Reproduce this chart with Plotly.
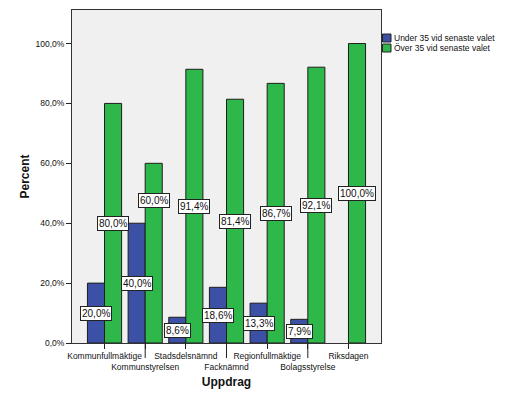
import plotly.graph_objects as go

categories = ["Kommunfullmäktige", "Kommunstyrelsen", "Stadsdelsnämnd", "Facknämnd",
              "Regionfullmäktige", "Bolagsstyrelse", "Riksdagen"]
under_35 = [20.0, 40.0, 8.6, 18.6, 13.3, 7.9, None]
over_35 = [80.0, 60.0, 91.4, 81.4, 86.7, 92.1, 100.0]
series_names = ["Under 35 vid senaste valet", "Över 35 vid senaste valet"]
y_ticks = [0, 20, 40, 60, 80, 100]
y_tick_labels = ["0,0%", "20,0%", "40,0%", "60,0%", "80,0%", "100,0%"]

BLUE = "#3c50a6"
GREEN = "#2fb84a"
FONT = "Liberation Sans, Arial, sans-serif"


def fmt(v):
    return f"{v:.1f}".replace(".", ",") + "%"


fig = go.Figure()
for name, vals, col in [(series_names[0], under_35, BLUE), (series_names[1], over_35, GREEN)]:
    fig.add_trace(go.Bar(
        x=categories, y=vals, name=name, showlegend=False,
        marker=dict(color=col, line=dict(color="#1e1e1e", width=1)),
    ))

annotations = []
for i, cat in enumerate(categories):
    for vals, shift in [(under_35, -8.5), (over_35, 8.5)]:
        v = vals[i]
        if v is None:
            continue
        extra = 0
        if cat == "Kommunstyrelsen" and shift > 0:
            extra = 53  # label lifted in the reference to clear the neighbour label
        annotations.append(dict(
            x=cat, y=v / 2, xref="x", yref="y", text=fmt(v), showarrow=False,
            xshift=shift, yshift=extra,
            font=dict(family=FONT, size=10, color="#111"),
            bgcolor="white", bordercolor="#222", borderwidth=1, borderpad=1,
        ))

# legend (manual, compact SPSS style)
shapes = []
for j, (name, col) in enumerate(zip(series_names, [BLUE, GREEN])):
    yc = 305 - j * 10  # pixel offset from bottom of plot area
    shapes.append(dict(
        type="rect", xref="paper", yref="paper",
        xsizemode="pixel", ysizemode="pixel", xanchor=1, yanchor=0,
        x0=1.5, x1=10, y0=yc - 4, y1=yc + 4,
        fillcolor=col, line=dict(color="#222", width=1),
    ))
    annotations.append(dict(
        x=1, y=0, xref="paper", yref="paper", xanchor="left", yanchor="middle",
        xshift=10.5, yshift=yc, text=name, showarrow=False,
        font=dict(family=FONT, size=8.5, color="#111"),
    ))

# long ticks for staggered (second row) category labels
for i, cat in enumerate(categories):
    if i % 2 == 1:
        shapes.append(dict(
            type="line", xref="x", yref="paper", ysizemode="pixel", yanchor=0,
            x0=cat, x1=cat, y0=0, y1=-15, line=dict(color="#222", width=1),
        ))

tick_text = [c if i % 2 == 0 else "<br>" + c for i, c in enumerate(categories)]

fig.update_layout(
    width=510, height=408, autosize=False,
    margin=dict(l=72, r=129, t=10, b=65),
    paper_bgcolor="white", plot_bgcolor="#f0f0f0",
    barmode="group", bargap=0.16, bargroupgap=0,
    font=dict(family=FONT, color="#111"),
    annotations=annotations, shapes=shapes,
    xaxis=dict(
        range=[-0.8, 6.8], tickmode="array", tickvals=categories, ticktext=tick_text,
        tickangle=0,
        ticks="outside", ticklen=5, tickcolor="#222", showgrid=False,
        showline=True, linecolor="#333", linewidth=1, mirror=True,
        tickfont=dict(family=FONT, size=8.5, color="#111"),
        title=dict(text="<b>Uppdrag</b>", font=dict(family=FONT, size=12, color="#111"), standoff=6),
        automargin=False,
    ),
    yaxis=dict(
        range=[0, 111.2], tickmode="array", tickvals=y_ticks, ticktext=y_tick_labels,
        ticks="outside", ticklen=5, tickcolor="#222", showgrid=False, zeroline=False,
        showline=True, linecolor="#333", linewidth=1, mirror=True,
        tickfont=dict(family=FONT, size=8.5, color="#111"),
        title=dict(text="<b>Percent</b>", font=dict(family=FONT, size=12, color="#111"), standoff=3),
        automargin=False,
    ),
)

fig.write_html("out.html")
